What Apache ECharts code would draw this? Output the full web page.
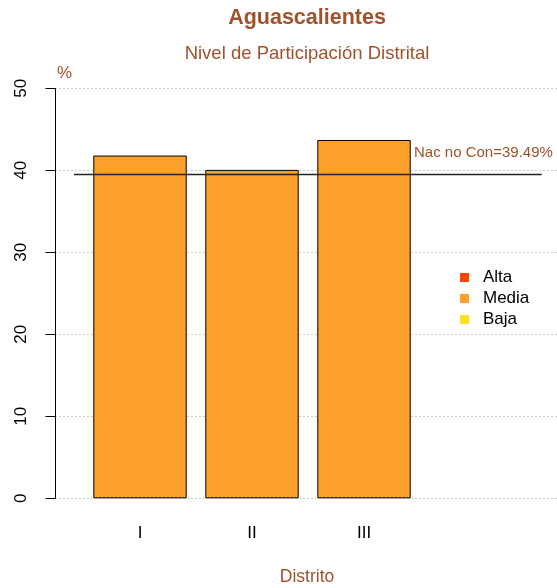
<!DOCTYPE html>
<html>
<head>
<meta charset="utf-8">
<script src="https://cdn.jsdelivr.net/npm/echarts@6/dist/echarts.min.js"></script>
<style>
html,body{margin:0;padding:0;background:#fff;}
#chart{width:557px;height:588px;}
</style>
</head>
<body>
<div id="chart"></div>
<script>
// Data
var categories = ['I', 'II', 'III'];
var mediaValues = [41.8, 40.05, 43.7];
var nacionalValue = 39.49;
var legendNames = ['Alta', 'Media', 'Baja'];
var legendColors = ['#FF4500', '#FFA02A', '#FFE11A'];
var yTicks = [0, 10, 20, 30, 40, 50];

var FONT = 'Liberation Sans, Arial, Helvetica, sans-serif';
var SIENNA = '#A0522D';

var chart = echarts.init(document.getElementById('chart'), null, {renderer: 'canvas'});

var barData = categories.map(function (c, i) { return [i + 1, mediaValues[i]]; });

var option = {
  backgroundColor: '#fff',
  animation: false,
  textStyle: {fontFamily: FONT},
  grid: {left: 55.5, right: 0, top: 88.3, bottom: 89.7, containLabel: false},
  legend: {
    orient: 'vertical',
    left: 455,
    top: 264,
    icon: 'rect',
    itemWidth: 9,
    itemHeight: 9,
    itemGap: 4,
    selectedMode: false,
    data: legendNames,
    itemStyle: {borderWidth: 0},
    textStyle: {fontFamily: FONT, fontSize: 17, color: '#000', padding: [0, 0, 0, 9]}
  },
  xAxis: {
    type: 'value',
    min: 0.2455,
    max: 4.723,
    axisLine: {show: false},
    axisTick: {show: false},
    splitLine: {show: false},
    axisLabel: {
      customValues: [1, 2, 3],
      formatter: function (v) { return categories[Math.round(v) - 1] || ''; },
      fontFamily: FONT,
      fontSize: 17,
      color: '#000',
      margin: 27
    }
  },
  yAxis: {
    type: 'value',
    min: yTicks[0],
    max: yTicks[yTicks.length - 1],
    interval: 10,
    axisLine: {show: true, lineStyle: {color: '#000', width: 1}},
    axisTick: {show: true, length: 10, inside: false, lineStyle: {color: '#000'}},
    splitLine: {show: true, lineStyle: {color: '#999', type: [1, 3], width: 1}},
    axisLabel: {rotate: 90, fontFamily: FONT, fontSize: 17, color: '#000', margin: 26}
  },
  series: [
    {name: 'Alta', type: 'bar', stack: 's', data: [], itemStyle: {color: legendColors[0]}},
    {
      name: 'Media', type: 'bar', stack: 's', barWidth: 93.4,
      data: barData,
      itemStyle: {color: legendColors[1], borderColor: '#000', borderWidth: 1},
      markLine: {
        silent: true,
        symbol: 'none',
        label: {show: false},
        lineStyle: {color: '#222', width: 1.3, type: 'solid'},
        data: [[{coord: [0.411, nacionalValue]}, {coord: [4.587, nacionalValue]}]]
      }
    },
    {name: 'Baja', type: 'bar', stack: 's', data: [], itemStyle: {color: legendColors[2]}}
  ],
  graphic: [
    {type: 'text', x: 307, y: 18.5, style: {text: 'Aguascalientes', font: 'bold 21.5px ' + FONT, fill: SIENNA, textAlign: 'center', textVerticalAlign: 'middle'}},
    {type: 'text', x: 307, y: 54, style: {text: 'Nivel de Participación Distrital', font: '18.5px ' + FONT, fill: SIENNA, textAlign: 'center', textVerticalAlign: 'middle'}},
    {type: 'text', x: 57, y: 73, style: {text: '%', font: '17px ' + FONT, fill: SIENNA, textAlign: 'left', textVerticalAlign: 'middle'}},
    {type: 'text', x: 307, y: 577.5, style: {text: 'Distrito', font: '17.5px ' + FONT, fill: SIENNA, textAlign: 'center', textVerticalAlign: 'middle'}},
    {type: 'text', x: 414, y: 153, style: {text: 'Nac no Con=' + nacionalValue.toFixed(2) + '%', font: '15px ' + FONT, fill: SIENNA, textAlign: 'left', textVerticalAlign: 'middle'}}
  ]
};
chart.setOption(option);
</script>
</body>
</html>
